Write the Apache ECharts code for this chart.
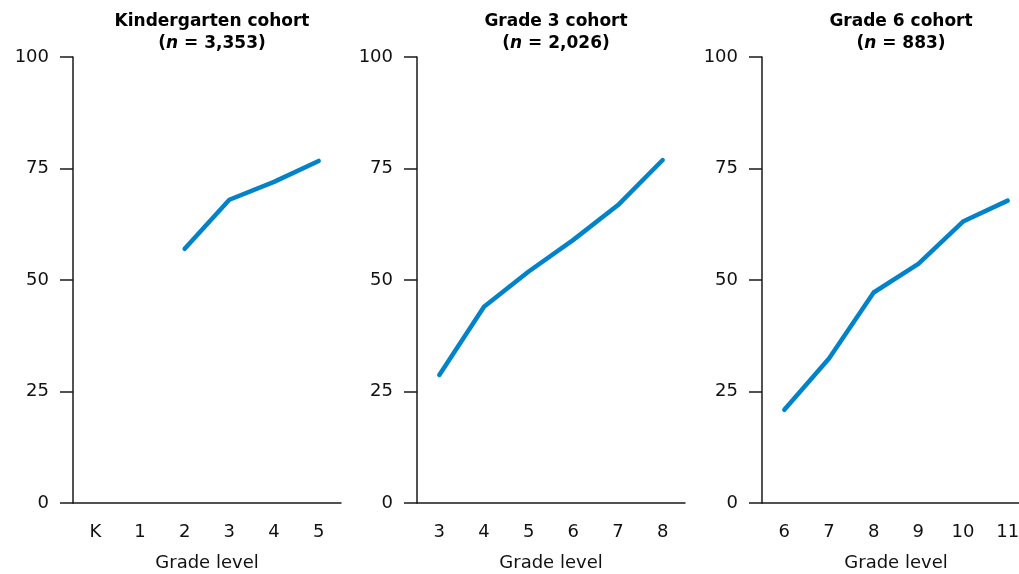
<!DOCTYPE html>
<html><head><meta charset="utf-8">
<script src="https://cdn.jsdelivr.net/npm/echarts@6/dist/echarts.min.js"></script>
<style>html,body{margin:0;padding:0;background:#fff;overflow:hidden}#c{width:1019px;height:574px}</style>
</head><body><div id="c"></div>
<script>
const panelTitles = ['Kindergarten cohort', 'Grade 3 cohort', 'Grade 6 cohort'];
const panelN = ['3,353', '2,026', '883'];
const gradesK = ['K', '1', '2', '3', '4', '5'];
const grades3 = ['3', '4', '5', '6', '7', '8'];
const grades6 = ['6', '7', '8', '9', '10', '11'];
const valuesK = [null, null, 57, 68, 72, 76.7];
const values3 = [28.7, 44.0, 51.9, 59.0, 66.8, 76.9];
const values6 = [20.9, 32.4, 47.2, 53.6, 63.1, 67.8];
const yTicks = [0, 25, 50, 75, 100];
const xAxisName = 'Grade level';

const cats = [gradesK, grades3, grades6];
const vals = [valuesK, values3, values6];
const lefts = [73, 417, 762];
const W = 268;
const FONT = 'DejaVu Sans';
const TFONT = 'DejaVu Sans';
const axisColor = '#1a1a1a';

const chart = echarts.init(document.getElementById('c'));
chart.setOption({
  animation: false,
  textStyle: { fontFamily: FONT },
  title: panelTitles.map((t, i) => ({
    text: '{b|' + t + '}\n{b|(}{i|n}{b| = ' + panelN[i] + ')}',
    left: lefts[i] + W / 2,
    top: 6,
    textAlign: 'center',
    textStyle: {
      rich: {
        b: { fontFamily: TFONT, fontWeight: 'bold', fontSize: 17, color: '#000', lineHeight: 22 },
        i: { fontFamily: TFONT, fontWeight: 'bold', fontStyle: 'italic', fontSize: 17, color: '#000', lineHeight: 22 }
      }
    }
  })),
  grid: lefts.map(l => ({ left: l, top: 57, width: W, height: 446, containLabel: false, outerBoundsMode: 'none' })),
  xAxis: cats.map((c, i) => ({
    type: 'category', gridIndex: i, data: c, boundaryGap: true,
    axisLine: { lineStyle: { color: axisColor, width: 1.5 } },
    axisTick: { show: false },
    axisLabel: { color: '#111', fontSize: 18, margin: 20, fontFamily: FONT },
    name: xAxisName, nameLocation: 'middle', nameGap: 51,
    nameTextStyle: { color: '#111', fontSize: 18, fontFamily: FONT }
  })),
  yAxis: cats.map((c, i) => ({
    type: 'value', gridIndex: i, min: yTicks[0], max: yTicks[yTicks.length - 1], interval: 25,
    axisLine: { show: true, lineStyle: { color: axisColor, width: 1.5 } },
    axisTick: { show: true, length: 13, lineStyle: { color: axisColor, width: 1.5 } },
    splitLine: { show: false },
    axisLabel: { color: '#111', fontSize: 18, margin: 24, fontFamily: FONT }
  })),
  series: vals.map((v, i) => ({
    type: 'line', xAxisIndex: i, yAxisIndex: i, data: v,
    symbol: 'none', connectNulls: false,
    lineStyle: { color: '#0083c9', width: 4.5, cap: 'round', join: 'round' }
  }))
});
</script></body></html>
